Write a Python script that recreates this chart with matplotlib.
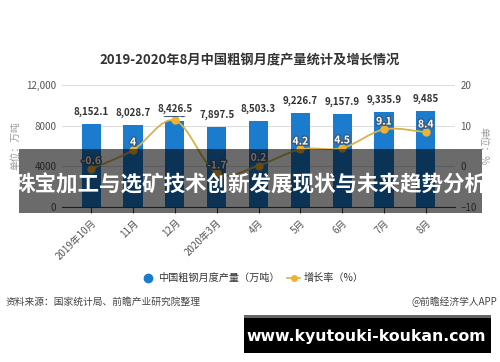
"""Monthly crude steel output with growth rate, overlaid with banner text."""

import matplotlib

matplotlib.use("Agg")
import matplotlib.pyplot as plt
import matplotlib.patheffects as pe
import numpy as np
from matplotlib.patches import PathPatch, Rectangle
from matplotlib.path import Path

plt.rcParams["font.family"] = ["Noto Sans CJK SC", "DejaVu Sans"]

months = ["2019年10月", "11月", "12月", "2020年3月", "4月", "5月", "6月", "7月", "8月"]
output = [8152.1, 8028.7, 8426.5, 7897.5, 8503.3, 9226.7, 9157.9, 9335.9, 9485.0]
output_labels = ["8,152.1", "8,028.7", "8,426.5", "7,897.5", "8,503.3",
                 "9,226.7", "9,157.9", "9,335.9", "9,485"]
growth = [-0.6, 4.0, 11.3, -1.7, 0.2, 4.2, 4.5, 9.1, 8.4]
growth_labels = ["-0.6", "4", "11.3", "-1.7", "0.2", "4.2", "4.5", "9.1", "8.4"]
left_ticks = [0, 4000, 8000, 12000]
left_tick_labels = ["0", "4000", "8000", "12,000"]
right_ticks = [-10, 0, 10, 20]

BAR_BLUE = "#1b7bcc"
LINE_GOLD = "#d9b24a"
MARK_GOLD = "#f0b132"


def smooth_path(xs, ys, tension=0.5):
    """Catmull-Rom style cubic Bezier path through the given points."""
    pts = np.column_stack([xs, ys]).astype(float)
    verts = [pts[0]]
    codes = [Path.MOVETO]
    n = len(pts)
    for i in range(n - 1):
        p0 = pts[max(i - 1, 0)]
        p1 = pts[i]
        p2 = pts[i + 1]
        p3 = pts[min(i + 2, n - 1)]
        c1 = p1 + (p2 - p0) * tension / 3.0
        c2 = p2 - (p3 - p1) * tension / 3.0
        verts += [c1, c2, p2]
        codes += [Path.CURVE4] * 3
    return Path(verts, codes)


fig = plt.figure(figsize=(5.0, 3.62), dpi=100)
fig.patch.set_facecolor("white")
ax = fig.add_axes([0.124, 0.428, 0.786, 0.337])
ax2 = ax.twinx()

x = np.arange(len(months))
ax.bar(x, output, width=0.46, color=BAR_BLUE, zorder=2)

ax.set_ylim(0, 12000)
ax.set_xlim(-0.7, len(months) - 0.3)
ax.set_yticks(left_ticks)
ax.set_yticklabels(left_tick_labels)
ax.grid(axis="y", color="#dddddd", linewidth=0.8, zorder=0)
ax.set_axisbelow(True)
for side in ("top", "right", "left"):
    ax.spines[side].set_visible(False)
ax.spines["bottom"].set_color("#444444")
ax.tick_params(axis="y", length=0, labelsize=7, colors="#555555", pad=4)
ax.set_xticks(x)
ax.set_xticklabels(months, rotation=45, ha="right", rotation_mode="anchor")
ax.tick_params(axis="x", length=4, color="#444444", labelsize=7,
               colors="#555555")
ax.set_ylabel("单位：万吨", fontsize=7, color="#999999", labelpad=4)

ax2.set_ylim(-10, 20)
ax2.set_yticks(right_ticks)
for side in ("top", "right", "left", "bottom"):
    ax2.spines[side].set_visible(False)
ax2.tick_params(axis="y", length=0, labelsize=7, colors="#555555", pad=4)
ax2.set_ylabel("单位：%", fontsize=7, color="#999999", rotation=-90,
               labelpad=8)

curve = PathPatch(smooth_path(x, growth), facecolor="none",
                  edgecolor=LINE_GOLD, linewidth=1.3, zorder=3)
ax2.add_patch(curve)
ax2.plot(x, growth, linestyle="none", marker="o", markersize=5,
         color=MARK_GOLD, zorder=4)
for xi, val, lab in zip(x, growth, growth_labels):
    ax2.annotate(lab, (xi, val), xytext=(0, 2), textcoords="offset points",
                 ha="center", va="bottom", fontsize=7.5, color="white",
                 fontweight="bold", zorder=5,
                 path_effects=[pe.withStroke(linewidth=2,
                                             foreground="#3d5a78")])

# bar value labels drawn on top of the growth labels
for xi, val, lab in zip(x, output, output_labels):
    ax2.annotate(lab, (xi, val), xycoords=ax.transData, xytext=(0, 5),
                 textcoords="offset points", ha="center", va="bottom",
                 fontsize=7, color="#333333", fontweight="bold", zorder=6,
                 bbox=dict(boxstyle="square,pad=0.15", facecolor="white",
                           edgecolor="none"))

fig.text(0.5, 0.834, "2019-2020年8月中国粗钢月度产量统计及增长情况",
         ha="center", va="center", fontsize=9.5, fontweight="bold",
         color="#333333")

# legend row
leg_y = 1 - 278 / 362
fig.lines.append(plt.Line2D([0.296], [leg_y], marker="o", markersize=6,
                            color=BAR_BLUE, linestyle="none",
                            transform=fig.transFigure))
fig.text(0.316, leg_y, "中国粗钢月度产量（万吨）", ha="left", va="center",
         fontsize=7.3, color="#333333")
fig.lines.append(plt.Line2D([0.574, 0.600], [leg_y, leg_y], color=LINE_GOLD,
                            linewidth=1.2, transform=fig.transFigure))
fig.lines.append(plt.Line2D([0.587], [leg_y], marker="o", markersize=4,
                            color=MARK_GOLD, linestyle="none",
                            transform=fig.transFigure))
fig.text(0.608, leg_y, "增长率（%）", ha="left", va="center",
         fontsize=7.3, color="#333333")

fig.text(0.012, 0.166, "资料来源：国家统计局、前瞻产业研究院整理", ha="left",
         va="center", fontsize=7, color="#444444")
fig.text(0.994, 0.166, "@前瞻经济学人APP", ha="right", va="center",
         fontsize=7, color="#444444")

# dark banner across the chart
fig.patches.append(Rectangle((0.038, 1 - 213 / 362), 0.926, 64 / 362,
                             transform=fig.transFigure, facecolor="black",
                             alpha=0.58, edgecolor="none", zorder=10))
fig.text(0.5, 1 - 185 / 362, "珠宝加工与选矿技术创新发展现状与未来趋势分析",
         ha="center", va="center", fontsize=15.5, fontweight="bold",
         color="white", zorder=11)

# url box
fig.patches.append(Rectangle((0.488, 1 - 353 / 362), 0.494, 38 / 362,
                             transform=fig.transFigure, facecolor="black",
                             edgecolor="none", zorder=10))
fig.patches.append(Rectangle((0.488, 1 - 318 / 362), 0.494, 3 / 362,
                             transform=fig.transFigure, facecolor="#666666",
                             edgecolor="none", zorder=11))
fig.text(0.733, 1 - 337 / 362, "www.kyutouki-koukan.com", ha="center",
         va="center", fontsize=11.3, fontweight="bold", color="white",
         family="DejaVu Sans", zorder=12)

fig.savefig("out.png", dpi=100)
